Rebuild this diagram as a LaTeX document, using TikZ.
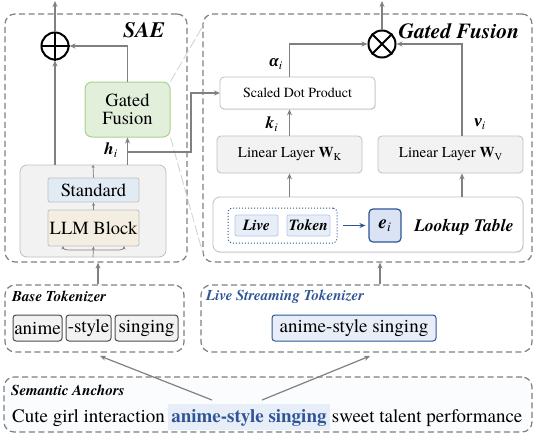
\documentclass[tikz,border=0pt]{standalone}
\usepackage{fontspec}
\setmainfont{texgyretermes}[Extension=.otf, UprightFont=*-regular, BoldFont=*-bold, ItalicFont=*-italic, BoldItalicFont=*-bolditalic]
\newfontfamily\grk{LiberationSerif}[Extension=.ttf, UprightFont=*-Regular, BoldFont=*-Bold, ItalicFont=*-Italic, BoldItalicFont=*-BoldItalic]
\usetikzlibrary{arrows.meta,calc,shadows}
\definecolor{dashc}{HTML}{7F7F7F}
\definecolor{arrc}{HTML}{808080}
\definecolor{grfill}{HTML}{E2EFDA}
\definecolor{grline}{HTML}{A9D18E}
\definecolor{gyfill}{HTML}{F2F2F2}
\definecolor{gyline}{HTML}{BFBFBF}
\definecolor{stdfill}{HTML}{E1EBF4}
\definecolor{llmfill}{HTML}{F4EDE1}
\definecolor{dblue}{HTML}{2F5597}
\definecolor{lbfill}{HTML}{E8EEF8}
\definecolor{lbline}{HTML}{B4C7E7}
\definecolor{eifill}{HTML}{DAE3F3}
\definecolor{semfill}{HTML}{FBFCFE}
\definecolor{zoomc}{HTML}{D0D0D0}
\newcommand\fs[1]{\fontsize{#1}{#1}\selectfont}
\begin{document}
\begin{tikzpicture}[x=1pt,y=-1pt,
  dbox/.style={draw=dashc, line width=1.2pt, dash pattern=on 6pt off 3.5pt, rounded corners=10pt, inner sep=0pt},
  arr/.style={draw=arrc, line width=1.2pt, -{Stealth[length=6pt,width=5pt]}},
  sarr/.style={draw=arrc, line width=0.7pt, -{Stealth[length=3.5pt,width=3pt]}},
  gbox/.style={draw=gyline, fill=gyfill, line width=0.8pt, rounded corners=4pt, inner sep=0pt},
  shd/.style={drop shadow={shadow xshift=0.8pt, shadow yshift=-1pt, opacity=0.18}},
  tokbox/.style={draw=black!70, fill=gyfill, line width=1pt, rounded corners=3pt, inner sep=0pt, minimum height=26pt, font=\fs{19}},
  opc/.style={circle, draw=black, line width=2pt, minimum size=27pt, inner sep=0pt},
  lbl/.style={font=\bfseries\itshape\fs{17}, inner sep=0pt},
  ttl/.style={font=\bfseries\itshape\fs{15}, inner sep=0pt, anchor=west}
]
\useasboundingbox (0,0) rectangle (536,437);

% outer dashed frames
\node[dbox, minimum width=182pt, minimum height=248pt] (sae) at (96,138) {};
\node[font=\bfseries\itshape\fs{22}] (saet) at (144,30) {SAE};
\node[dbox, minimum width=329pt, minimum height=248pt] (gfb) at (367.5,138) {};
\node[font=\bfseries\itshape\fs{21.5}] (gft) at (459,31) {Gated Fusion};
\node[dbox, minimum width=179pt, minimum height=67pt] (btk) at (94.5,318.5) {};
\node[dbox, minimum width=331pt, minimum height=67pt] (ltk) at (366.5,318.5) {};
\node[dbox, fill=semfill, minimum width=528pt, minimum height=55pt] (sem) at (268,404.5) {};

% SAE contents
\node[opc] (plus) at (55,46) {};
\draw[line width=2pt] (plus.north) -- (plus.south) (plus.west) -- (plus.east);
\node[draw=grline, fill=grfill, line width=1pt, rounded corners=7pt, minimum width=85pt, minimum height=55pt, align=center, font=\fs{18.5}, inner sep=0pt] (gfs) at (127.5,109.5) {Gated\\[-1pt]Fusion};
\node[gbox, rounded corners=7pt, minimum width=146pt, minimum height=92pt] (cont) at (93,211) {};
\node[draw=gyline, fill=stdfill, line width=0.8pt, rounded corners=2pt, minimum width=91pt, minimum height=24pt, inner sep=0pt, font=\fs{18.5}] (std) at (93.5,190) {Standard};
\node[draw=gyline, fill=llmfill, line width=0.8pt, rounded corners=2pt, minimum width=91pt, minimum height=36pt, inner sep=0pt, font=\fs{18.5}] (llm) at (93.5,228) {LLM Block};
\node[lbl] (hl) at (111,150) {h\textsubscript{\normalfont\itshape i}};

% zoom guide lines
\coordinate (z1) at (204,24);
\coordinate (z2) at (203,254);
\draw[zoomc, line width=0.8pt, dash pattern=on 10pt off 3pt] (gfs.north east) -- (z1);
\draw[zoomc, line width=0.8pt, dash pattern=on 10pt off 3pt] (gfs.south east) -- (z2);

% SAE connectors
\coordinate (o1) at (55,1);
\draw[arr] (plus |- cont.north) -- (plus.south);
\draw[arr] (plus.north) -- (o1);
\draw[arr] (gfs.north) |- (plus.east);
\draw[arr] (gfs |- cont.north) -- (gfs.south);
\coordinate (hb) at (127.5,152);
\draw[arr] (hb) -- (191,152) |- (220,93);
\draw[sarr] (std.north) -- (cont.north);
\draw[sarr] (llm.north) -- (std.south);
\draw[sarr] (cont.south) -- (llm.south);
\coordinate (rc) at (93.5,250);
\draw[sarr] (rc) -- (68,250) to[out=180,in=-90] (63,246);
\draw[sarr] (rc) -- (119,250) to[out=0,in=-90] (124,246);

% Gated fusion contents
\node[opc] (otim) at (382,44) {};
\draw[line width=2pt] (otim.north east) -- (otim.south west) (otim.north west) -- (otim.south east);
\node[draw=gyline, fill=white, shd, line width=0.8pt, rounded corners=4pt, minimum width=155pt, minimum height=32pt, inner sep=0pt, font=\fs{14}] (sdp) at (297.5,93) {Scaled Dot Product};
\node[gbox, minimum width=145pt, minimum height=37pt, font=\fs{15}] (link) at (289.5,154.5) {Linear Layer \textbf{W}\raisebox{-2.5pt}{\fs{10.5}K}};
\node[gbox, minimum width=145pt, minimum height=37pt, font=\fs{15}] (linv) at (450.5,154.5) {Linear Layer \textbf{W}\raisebox{-2.5pt}{\fs{10.5}V}};
\node[draw=gyline, fill=white, shd, line width=0.8pt, rounded corners=7pt, minimum width=310pt, minimum height=55pt, inner sep=0pt] (lut) at (368,224.5) {};
\node[draw=dblue, line width=1pt, dotted, rounded corners=4pt, minimum width=109pt, minimum height=35pt, inner sep=0pt] (ldot) at (282.5,225.5) {};
\node[draw=lbline, fill=lbfill, line width=0.8pt, rounded corners=2pt, minimum width=43pt, minimum height=21pt, inner sep=0pt, font=\bfseries\itshape\fs{15.5}] (live) at (256.5,225.5) {Live};
\node[draw=lbline, fill=lbfill, line width=0.8pt, rounded corners=2pt, minimum width=43pt, minimum height=21pt, inner sep=0pt, font=\bfseries\itshape\fs{15.5}] (tok) at (308.5,225.5) {Token};
\node[draw=dblue, fill=eifill, line width=1.2pt, rounded corners=4pt, minimum width=32pt, minimum height=33pt, inner sep=0pt, font=\fs{19}] (ei) at (385,225.5) {\textbf{\textit{e}}\textsubscript{\itshape i}};
\node[font=\bfseries\itshape\fs{17.5}, inner sep=0pt] (lutl) at (464,227) {Lookup Table};
\node[lbl] (al) at (276,64) {{\grk α}\textsubscript{\normalfont\itshape i}};
\node[lbl] (kl) at (272,124) {k\textsubscript{\normalfont\itshape i}};
\node[lbl] (vl) at (480,124) {{\grk ν}\textsubscript{\normalfont\itshape i}};

\coordinate (o2) at (382,1);
\coordinate (vx) at (462,0);
\draw[arr] (otim.north) -- (o2);
\draw[arr] (sdp.north -| link) |- (otim.west);
\draw[arr] (vx |- linv.north) |- (otim.east);
\draw[arr] (link.north) -- (link.north |- sdp.south);
\draw[arr] (link |- lut.north) -- (link.south);
\draw[arr] (vx |- lut.north) -- (vx |- linv.south);
\draw[draw=dblue, line width=1.2pt, -{Stealth[length=6pt,width=5pt]}] ([xshift=5pt]ldot.east) -- ([xshift=-3pt]ei.west);

% tokenizers
\node[ttl] (btl) at (12,297) {Base Tokenizer};
\node[tokbox, minimum width=49pt] (t1) at (37.5,328) {anime};
\node[tokbox, minimum width=45pt] (t2) at (88.5,328) {-style};
\node[tokbox, minimum width=63pt] (t3) at (146.5,328) {singing};
\node[ttl, text=dblue] (ltl) at (206,297) {Live Streaming Tokenizer};
\node[draw=dblue, fill=lbfill, line width=1pt, rounded corners=3pt, minimum width=164pt, minimum height=26pt, inner sep=0pt, font=\fs{19}] (lt) at (354,328) {anime-style singing};

\coordinate (bx) at (98,0);
\coordinate (lx) at (380,0);
\draw[arr] (bx |- btk.north) -- (bx |- sae.south);
\draw[arr] (lx |- ltk.north) -- (lx |- gfb.south);

% semantic anchors
\node[ttl] (sml) at (11,390) {Semantic Anchors};
\node[anchor=base west, inner sep=0pt, font=\fs{19}] (sl) at (12,422) {Cute girl interaction};
\node[anchor=base west, fill=lbfill, minimum height=26pt, inner xsep=3pt, inner ysep=0pt, font=\bfseries\fs{19}, text=dblue] (hlt) at ([xshift=3pt]sl.base east) {anime-style singing};
\node[anchor=base west, inner sep=0pt, font=\fs{19}] (sr) at ([xshift=2pt]hlt.base east) {sweet talent performance};
\coordinate (s1) at (212,400);
\coordinate (s2) at (262,400);
\coordinate (t1a) at (100,356);
\coordinate (t2a) at (370,356);
\draw[arr] (s1) -- (t1a);
\draw[arr] (s2) -- (t2a);
\end{tikzpicture}
\end{document}
